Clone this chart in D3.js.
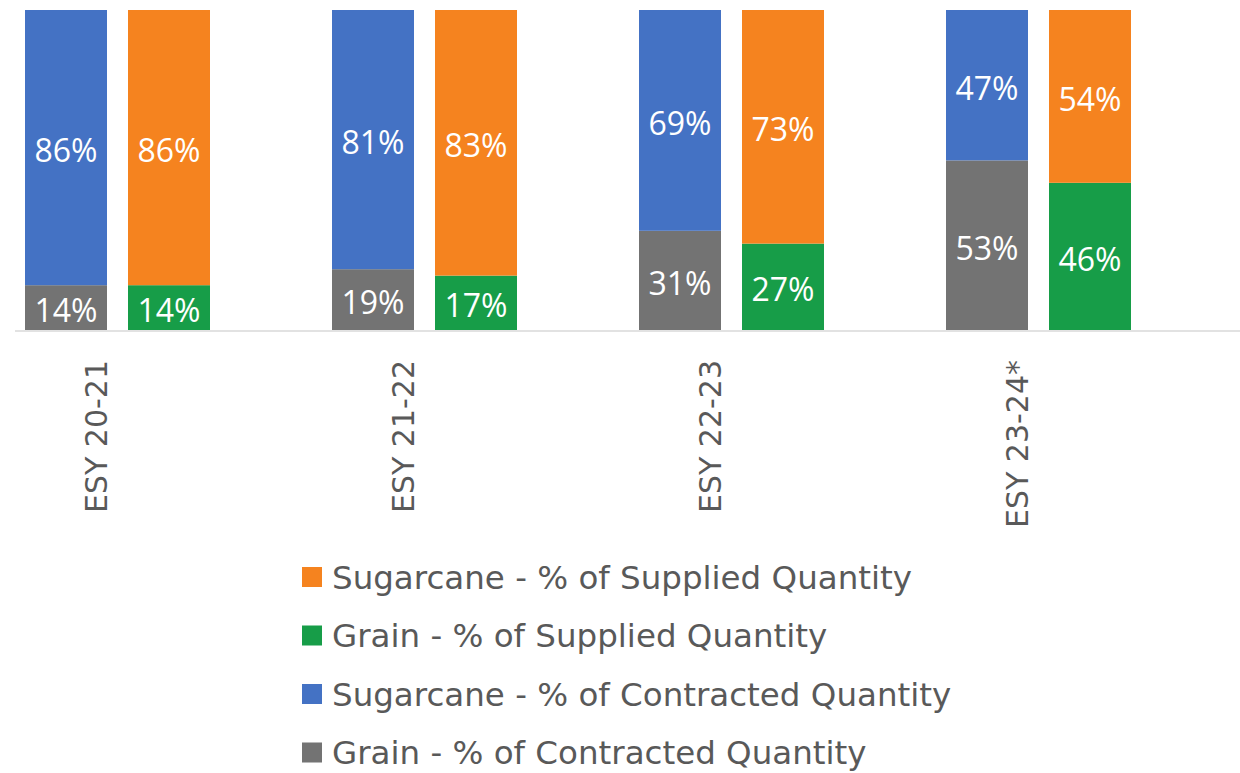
<!DOCTYPE html>
<html>
<head>
  <meta charset="utf-8">
  <script src="https://d3js.org/d3.v7.min.js"></script>
  <style type="text/css">
    body { margin: 0; background: #fff; }
    .value-label {
      font-family: "Open Sans", "Noto Sans", sans-serif;
      font-size: 32px;
      fill: #fff;
    }
    .cat-label {
      font-family: "DejaVu Sans", Verdana, sans-serif;
      font-size: 30px;
      fill: #595959;
    }
    .legend {
      font-family: "DejaVu Sans", Verdana, sans-serif;
      font-size: 32.5px;
      fill: #595959;
    }
  </style>
</head>
<body>
<script type="text/javascript">
  // Data
  var categories = ['ESY 20-21', 'ESY 21-22', 'ESY 22-23', 'ESY 23-24*'];
  var grainContracted = [0.14, 0.19, 0.31, 0.53];
  var sugarContracted = [0.86, 0.81, 0.69, 0.47];
  var grainSupplied = [0.14, 0.17, 0.27, 0.46];
  var sugarSupplied = [0.86, 0.83, 0.73, 0.54];

  var legendNames = [
    'Sugarcane - % of Supplied Quantity',
    'Grain - % of Supplied Quantity',
    'Sugarcane - % of Contracted Quantity',
    'Grain - % of Contracted Quantity'
  ];
  var colors = {
    sugarSupplied: '#F5831F',
    grainSupplied: '#179D48',
    sugarContracted: '#4472C4',
    grainContracted: '#737373'
  };

  //Variable declaration
  var width = 1240, height = 773;

  var svg = d3.select('body').append('svg')
      .attr('width', width)
      .attr('height', height);

  var x0 = d3.scaleBand().domain(categories).range([-36, 1192]);
  var x1 = d3.scaleBand().domain(['contracted', 'supplied'])
      .range([61, 246]).paddingInner(0.204);
  var y = d3.scaleLinear().domain([0, 1]).range([330, 10]);

  // build segments: bottom then top for each bar
  var segments = [];
  categories.forEach(function(c, i) {
    segments.push({cat: c, bar: 'contracted', y0: 0, y1: grainContracted[i], v: grainContracted[i], color: colors.grainContracted});
    segments.push({cat: c, bar: 'contracted', y0: grainContracted[i], y1: grainContracted[i] + sugarContracted[i], v: sugarContracted[i], color: colors.sugarContracted});
    segments.push({cat: c, bar: 'supplied', y0: 0, y1: grainSupplied[i], v: grainSupplied[i], color: colors.grainSupplied});
    segments.push({cat: c, bar: 'supplied', y0: grainSupplied[i], y1: grainSupplied[i] + sugarSupplied[i], v: sugarSupplied[i], color: colors.sugarSupplied});
  });

  svg.selectAll('rect.seg')
    .data(segments)
    .enter().append('rect')
    .attr('class', 'seg')
    .attr('x', function(d) { return x0(d.cat) + x1(d.bar); })
    .attr('width', x1.bandwidth())
    .attr('y', function(d) { return y(d.y1); })
    .attr('height', function(d) { return y(d.y0) - y(d.y1); })
    .attr('fill', function(d) { return d.color; });

  svg.selectAll('text.value-label')
    .data(segments)
    .enter().append('text')
    .attr('class', 'value-label')
    .attr('x', function(d) { return x0(d.cat) + x1(d.bar) + x1.bandwidth() / 2; })
    .attr('y', function(d) { return (y(d.y0) + y(d.y1)) / 2; })
    .attr('dy', '0.45em')
    .attr('text-anchor', 'middle')
    .text(function(d) { return Math.round(d.v * 100) + '%'; });

  // axis line
  svg.append('line')
    .attr('x1', 15).attr('x2', width)
    .attr('y1', y(0) + 1).attr('y2', y(0) + 1)
    .attr('stroke', '#d9d9d9')
    .attr('stroke-width', 1.5);

  // category labels
  svg.selectAll('text.cat-label')
    .data(categories)
    .enter().append('text')
    .attr('class', 'cat-label')
    .attr('transform', function(d) {
      return 'translate(' + (x0(d) + x0.bandwidth() / 2 - 21) + ',360) rotate(-90)';
    })
    .attr('text-anchor', 'end')
    .attr('dy', '0.36em')
    .text(function(d) { return d; });

  // legend
  var legendColors = [colors.sugarSupplied, colors.grainSupplied, colors.sugarContracted, colors.grainContracted];
  var legend = svg.selectAll('g.legend-item')
    .data(legendNames)
    .enter().append('g')
    .attr('class', 'legend-item')
    .attr('transform', function(d, i) { return 'translate(302,' + (577 + i * 58.5) + ')'; });

  legend.append('rect')
    .attr('x', 0).attr('y', -10)
    .attr('width', 20).attr('height', 20)
    .attr('fill', function(d, i) { return legendColors[i]; });

  legend.append('text')
    .attr('class', 'legend')
    .attr('x', 30)
    .attr('dy', '0.36em')
    .text(function(d) { return d; });
</script>
</body>
</html>
